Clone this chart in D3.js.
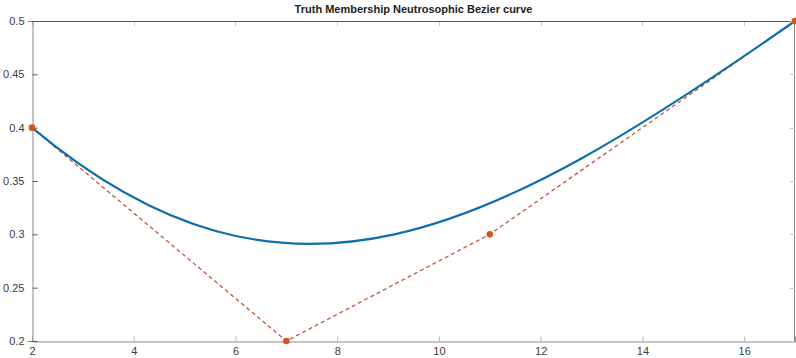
<!DOCTYPE html>
<html lang="en">
<head>
<meta charset="UTF-8">
<title>Truth Membership Neutrosophic Bezier curve</title>
<script src="https://d3js.org/d3.v7.min.js"></script>
<style>
  body { margin: 0; background: #fff; }
  svg { display: block; font-family: "Liberation Sans", Arial, sans-serif; }
</style>
</head>
<body>
<div id="chart"></div>
<script>
// Control points of the Bezier curve
const ctrlX = [2, 7, 11, 17];
const ctrlY = [0.4, 0.2, 0.3, 0.5];

const xTicks = [2, 4, 6, 8, 10, 12, 14, 16];
const yTicks = [0.2, 0.25, 0.3, 0.35, 0.4, 0.45, 0.5];
const title = "Truth Membership Neutrosophic Bezier curve";

const W = 796, H = 358;
const margin = { top: 21, right: 1, bottom: 17, left: 32 };

const svg = d3.select("#chart").append("svg")
    .attr("width", W).attr("height", H);

const x = d3.scaleLinear().domain([2, 17]).range([margin.left, W - margin.right]);
const y = d3.scaleLinear().domain([0.2, 0.5]).range([H - margin.bottom, margin.top]);

const axisColor = "#8a8a8a";
const textColor = "#3c3c3c";

// faint grid-like ticks at top
svg.append("g")
    .selectAll("line")
    .data(xTicks)
    .join("line")
    .attr("x1", d => Math.round(x(d)) + 0.5).attr("x2", d => Math.round(x(d)) + 0.5)
    .attr("y1", y(0.5)).attr("y2", y(0.5) + 5)
    .attr("stroke", "#c8c8c8");

// bottom axis
const xAxis = svg.append("g")
    .attr("transform", `translate(0,${Math.round(y(0.2)) + 0.5})`)
    .call(d3.axisBottom(x).tickValues(xTicks).tickSize(-5).tickPadding(6).tickFormat(d3.format("d")));
xAxis.select(".domain").attr("stroke", axisColor);
xAxis.selectAll(".tick line").attr("stroke", "#b5b5b5");
xAxis.selectAll("text").attr("fill", textColor).style("font-size", "11px");

// left axis
const yAxis = svg.append("g")
    .attr("transform", `translate(${Math.round(x(2)) + 0.5},0)`)
    .call(d3.axisLeft(y).tickValues(yTicks).tickSize(5).tickPadding(3).tickFormat(d => String(+d.toFixed(2))));
yAxis.select(".domain").attr("stroke", axisColor);
yAxis.selectAll(".tick line").attr("stroke", "#555").attr("x2", 5).attr("x1", 0);
yAxis.selectAll("text").attr("fill", textColor).style("font-size", "11px");

// box top and right
svg.append("line")
    .attr("x1", x(2)).attr("x2", x(17))
    .attr("y1", Math.round(y(0.5)) + 0.5).attr("y2", Math.round(y(0.5)) + 0.5)
    .attr("stroke", "#555");
svg.append("line")
    .attr("x1", x(17) - 0.5).attr("x2", x(17) - 0.5)
    .attr("y1", y(0.5)).attr("y2", y(0.2))
    .attr("stroke", axisColor);
svg.append("g")
    .selectAll("line")
    .data(yTicks)
    .join("line")
    .attr("x1", x(17) - 5).attr("x2", x(17))
    .attr("y1", d => Math.round(y(d)) + 0.5).attr("y2", d => Math.round(y(d)) + 0.5)
    .attr("stroke", "#c8c8c8");

// title
svg.append("text")
    .attr("x", (x(2) + x(17)) / 2).attr("y", 13)
    .attr("text-anchor", "middle")
    .style("font-size", "11px").style("font-weight", "bold")
    .attr("fill", "#222")
    .text(title);

const pts = ctrlX.map((d, i) => [d, ctrlY[i]]);

// control polygon
svg.append("path")
    .datum(pts)
    .attr("fill", "none")
    .attr("stroke", "#c4533a")
    .attr("stroke-width", 1.3)
    .attr("stroke-dasharray", "4,3")
    .attr("d", d3.line().x(d => x(d[0])).y(d => y(d[1])));

// bezier curve from control points
const p = d3.path();
p.moveTo(x(pts[0][0]), y(pts[0][1]));
p.bezierCurveTo(x(pts[1][0]), y(pts[1][1]), x(pts[2][0]), y(pts[2][1]), x(pts[3][0]), y(pts[3][1]));
svg.append("path")
    .attr("d", p.toString())
    .attr("fill", "none")
    .attr("stroke", "#0f6fa8")
    .attr("stroke-width", 2.2);

// control points
svg.append("g")
    .selectAll("circle")
    .data(pts)
    .join("circle")
    .attr("cx", d => x(d[0])).attr("cy", d => y(d[1]))
    .attr("r", 3.3)
    .attr("fill", "#d95319");
</script>
</body>
</html>
